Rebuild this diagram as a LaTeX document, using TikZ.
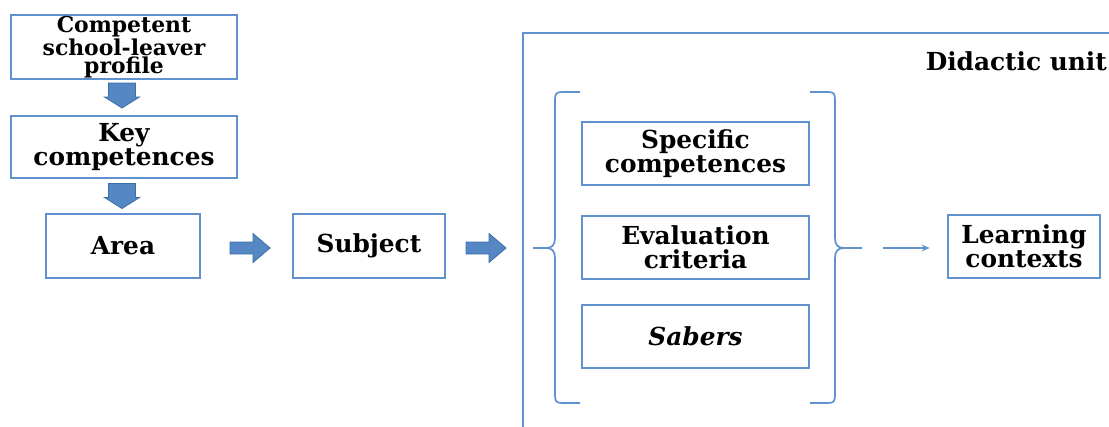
\documentclass[tikz,border=0pt]{standalone}
\usepackage{fontspec}
\setmainfont{DejaVu Serif}
\usetikzlibrary{arrows.meta}
\definecolor{boxblue}{RGB}{98,145,207}
\definecolor{arrfill}{RGB}{84,135,195}
\definecolor{arrline}{RGB}{62,110,168}
\tikzset{
  box/.style={draw=boxblue,line width=1.4pt,align=center,inner sep=0pt,
    font=\bfseries\fontsize{18.6}{18}\selectfont},
  blockarr/.style={fill=arrfill,draw=arrline,line width=0.6pt,line join=miter},
  bline/.style={draw=boxblue,line width=1.4pt},
}
\newcommand\rblk[1]{\path[blockarr,shift={#1}] (-20,-6) -- (3,-6) -- (3,-14.5) -- (20,0) -- (3,14.5) -- (3,6) -- (-20,6) -- cycle;}
\newcommand\dblk[1]{\path[blockarr,shift={#1}] (-13.5,-12.5) -- (13.5,-12.5) -- (13.5,1.5) -- (17.5,1.5) -- (0,12.5) -- (-17.5,1.5) -- (-13.5,1.5) -- cycle;}
\begin{document}
\begin{tikzpicture}[x=0.75pt,y=-0.75pt]
\useasboundingbox (0,0) rectangle (1109,426);
\clip (0,0) rectangle (1109,426);
% left column
\node[box,minimum width=169.5pt,minimum height=48pt,font=\bfseries\fontsize{16.4}{13.4}\selectfont] (prof) at (124,47) {Competent\\school-leaver\\profile};
\node[box,minimum width=169.5pt,minimum height=46.5pt] (key) at (124,147) {Key\\competences};
\node[box,minimum width=115.5pt,minimum height=48pt] (area) at (123,246) {Area};
\node[box,minimum width=114pt,minimum height=48pt] (subj) at (369,246) {Subject};
\dblk{(122,95.5)}
\dblk{(122,196)}
\rblk{(250,248)}
\rblk{(486,248)}
% didactic unit frame
\draw[bline] (523,440) -- (523,33) -- (1120,33);
\node[anchor=base east,font=\bfseries\fontsize{18.6}{18}\selectfont,inner sep=0pt] (du) at (1107,70) {Didactic unit};
% inner boxes
\node[box,minimum width=170.25pt,minimum height=47.25pt] (spec) at (695.5,153.5) {Specific\\competences};
\node[box,minimum width=170.25pt,minimum height=47.25pt] (eval) at (695.5,247.5) {Evaluation\\criteria};
\node[box,minimum width=170.25pt,minimum height=47.25pt,font=\bfseries\itshape\fontsize{18.6}{18}\selectfont] (sab) at (695.5,336.5) {Sabers};
\node[box,minimum width=114pt,minimum height=47.25pt] (lc) at (1024,246.5) {Learning\\contexts};
% braces
\draw[bline,line width=1.3pt] (580,92) -- (562,92) .. controls (556,92) and (555,94) .. (555,100)
  -- (555,238) .. controls (555,245) and (552,248) .. (546,248) -- (533,248)
  -- (546,248) .. controls (552,248) and (555,251) .. (555,258)
  -- (555,395) .. controls (555,401) and (556,403) .. (562,403) -- (580,403);
\draw[bline,line width=1.3pt] (810,92) -- (828,92) .. controls (834,92) and (835,94) .. (835,100)
  -- (835,238) .. controls (835,245) and (838,248) .. (844,248) -- (862,248)
  -- (844,248) .. controls (838,248) and (835,251) .. (835,258)
  -- (835,395) .. controls (835,401) and (834,403) .. (828,403) -- (810,403);
\coordinate (ast) at (883,248);
\draw[draw=boxblue,line width=1.2pt,-{Stealth[length=6pt,width=5pt]},shorten >=13pt] (ast) -- (ast -| lc.west);
\end{tikzpicture}
\end{document}
